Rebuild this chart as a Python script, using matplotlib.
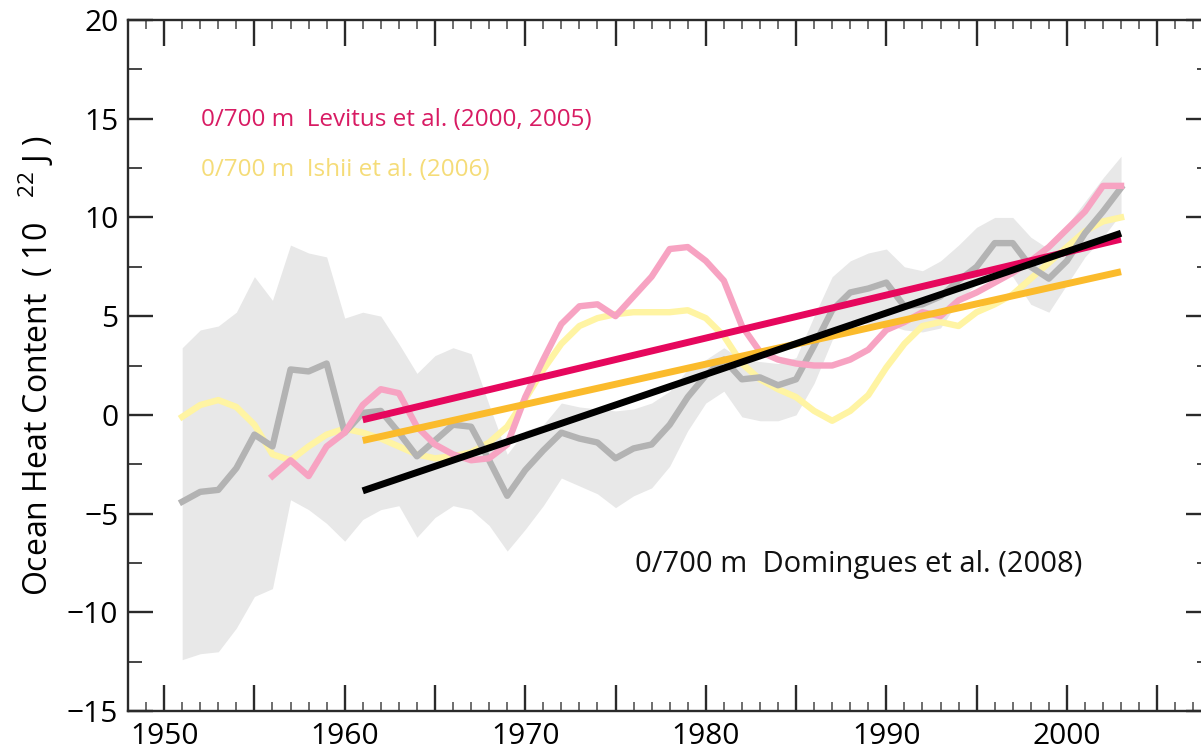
import numpy as np
import matplotlib
matplotlib.use('Agg')
import matplotlib.pyplot as plt
from matplotlib.ticker import MultipleLocator

plt.rcParams['font.family'] = ['Open Sans', 'DejaVu Sans']
plt.rcParams['mathtext.default'] = 'regular'

# Domingues et al. (2008) yearly values and uncertainty band (10^22 J)
years = np.arange(1951, 2004)
dom = [-4.4, -3.9, -3.8, -2.7, -1.0, -1.6, 2.3, 2.2, 2.6, -0.9,
       0.1, 0.2, -0.9, -2.1, -1.3, -0.5, -0.6, -2.3, -4.1, -2.8,
       -1.8, -0.9, -1.2, -1.4, -2.2, -1.7, -1.5, -0.5, 0.9, 2.0,
       2.8, 1.8, 1.9, 1.5, 1.8, 3.5, 5.3, 6.2, 6.4, 6.7,
       5.5, 5.6, 6.0, 6.8, 7.5, 8.7, 8.7, 7.5, 6.9, 7.8,
       9.2, 10.3, 11.5]
dom_hi = [3.4, 4.3, 4.5, 5.2, 7.0, 5.8, 8.6, 8.2, 8.0, 4.9,
          5.2, 5.0, 3.6, 2.1, 3.0, 3.4, 3.1, 0.5, -2.0, -0.8,
          -0.5, 0.6, 0.4, 0.3, 0.2, 0.3, 0.6, 1.2, 2.3, 2.8,
          3.4, 2.8, 2.7, 2.6, 2.9, 5.0, 7.0, 7.8, 8.2, 8.4,
          7.5, 7.3, 7.8, 8.6, 9.5, 10.0, 10.0, 9.0, 8.4, 9.6,
          10.8, 12.0, 13.1]
dom_lo = [-12.4, -12.1, -12.0, -10.8, -9.2, -8.8, -4.3, -4.8, -5.5, -6.4,
          -5.3, -4.8, -4.6, -6.2, -5.2, -4.6, -4.8, -5.6, -6.9, -5.8,
          -4.6, -3.2, -3.6, -4.0, -4.7, -4.1, -3.7, -2.6, -0.8, 0.6,
          1.2, -0.1, -0.3, -0.3, 0.0, 1.6, 3.8, 4.8, 4.6, 4.6,
          4.3, 4.2, 4.4, 5.8, 6.6, 7.2, 7.0, 5.6, 5.2, 6.6,
          8.0, 9.0, 10.2]

# Levitus et al. (2000, 2005)
lev_years = np.arange(1956, 2004)
lev = [-3.1, -2.3, -3.1, -1.6, -0.9,
       0.5, 1.3, 1.1, -0.6, -1.5, -2.0, -2.3, -2.2, -1.5, 0.9,
       2.8, 4.6, 5.5, 5.6, 5.0, 6.0, 7.0, 8.4, 8.5, 7.8,
       6.8, 4.5, 3.2, 2.8, 2.6, 2.5, 2.5, 2.8, 3.3, 4.3,
       4.7, 5.2, 5.0, 5.8, 6.2, 6.7, 7.2, 7.8, 8.5, 9.4,
       10.3, 11.6, 11.6]

# Ishii et al. (2006)
ishii = [-0.1, 0.5, 0.75, 0.4, -0.5, -2.0, -2.3, -1.6, -1.0, -0.7,
         -0.9, -1.2, -1.6, -2.0, -2.2, -2.1, -1.9, -1.4, -0.6, 0.8,
         2.3, 3.6, 4.5, 4.9, 5.1, 5.2, 5.2, 5.2, 5.3, 4.9,
         4.0, 2.6, 1.8, 1.3, 0.9, 0.2, -0.3, 0.2, 1.0, 2.4,
         3.6, 4.5, 4.7, 4.5, 5.2, 5.6, 6.1, 6.9, 7.7, 8.5,
         9.3, 9.8, 10.0]

# linear trends 1961-2003
trend_years = [1961, 2003]
lev_trend = [-0.25, 8.9]
ishii_trend = [-1.3, 7.25]
dom_trend = [-3.85, 9.2]

fig = plt.figure(figsize=(12.01, 7.53), dpi=100)
ax = fig.add_axes([0.1066, 0.0558, 0.902, 0.9176])

ax.fill_between(years, dom_lo, dom_hi, color='#e8e8e8', lw=0, zorder=1)
ax.plot(years, ishii, color='#fff4a3', lw=4.6, zorder=2)
ax.plot(years, dom, color='#b3b3b3', lw=4.6, zorder=3)
ax.plot(lev_years, lev, color='#f7a3c2', lw=4.6, zorder=4)

ax.plot(trend_years, ishii_trend, color='#fbbb2c', lw=5, zorder=5, solid_capstyle='butt')
ax.plot(trend_years, lev_trend, color='#e6075d', lw=5, zorder=6, solid_capstyle='butt')
ax.plot(trend_years, dom_trend, color='black', lw=5, zorder=7, solid_capstyle='butt')

ax.text(1952.04, 14.94, '0/700 m  Levitus et al. (2000, 2005)', color='#d81b63',
        fontsize=17.5, va='center', ha='left')
ax.text(1952.04, 12.4, '0/700 m  Ishii et al. (2006)', color='#f5dc78',
        fontsize=17.5, va='center', ha='left')
ax.text(1976.1, -7.6, '0/700 m  Domingues et al. (2008)', color='#111111',
        fontsize=21, va='center', ha='left')

ax.set_xlim(1948, 2008)
ax.set_ylim(-15, 20)
ax.xaxis.set_minor_locator(MultipleLocator(1))
ax.yaxis.set_minor_locator(MultipleLocator(2.5))
ax.set_xticks(np.arange(1950, 2010, 5))
ax.set_xticklabels([str(y) if y % 10 == 0 else '' for y in range(1950, 2010, 5)])
ax.set_yticks([-15, -10, -5, 0, 5, 10, 15, 20])
ax.set_yticklabels(['\u221215', '\u221210', '\u22125', '0', '5', '10', '15', '20'])

ax.tick_params(axis='x', which='major', direction='in', length=19, width=1.7,
               top=True, bottom=True, labelsize=21.5, pad=8, color='#2a2a2a')
ax.tick_params(axis='x', which='minor', direction='in', length=6.5, width=1.2,
               top=True, bottom=True, color='#555555')
ax.tick_params(axis='y', which='major', direction='in', length=18, width=1.7,
               left=True, right=True, labelsize=21.5, pad=7, color='#2a2a2a')
ax.tick_params(axis='y', which='minor', direction='in', length=10, width=1.4,
               left=True, right=True, color='#444444')

for s in ax.spines.values():
    s.set_linewidth(1.7)
    s.set_color('#2a2a2a')

ax.set_ylabel('Ocean Heat Content  ( 10   $^{22}$ J )', fontsize=23, labelpad=8)

fig.savefig('out.png', dpi=100)
